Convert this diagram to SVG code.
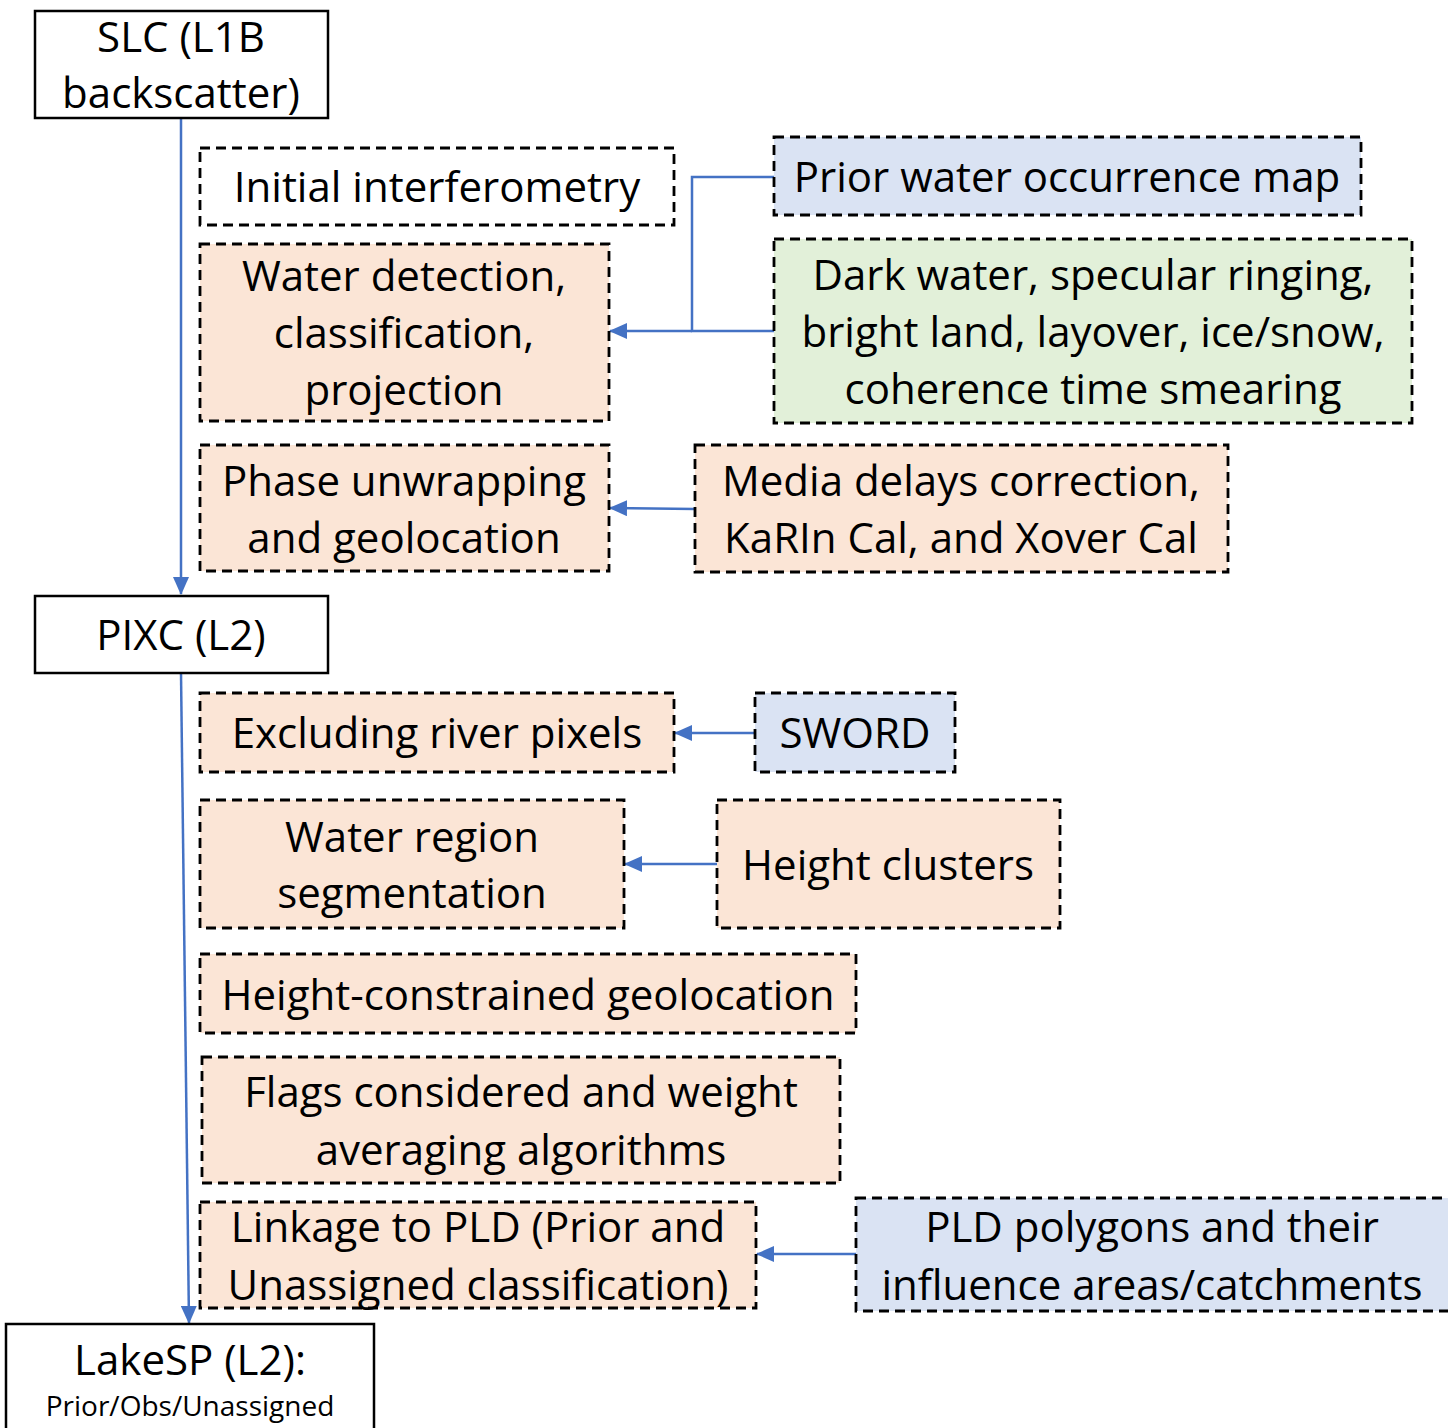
<svg xmlns="http://www.w3.org/2000/svg" width="1448" height="1428" viewBox="0 0 1448 1428">
<defs>
<marker id="ah" markerUnits="userSpaceOnUse" markerWidth="18" markerHeight="16" refX="17" refY="8" orient="auto">
<path d="M0,0 L18,8 L0,16 Z" fill="#4472C4"/>
</marker>
<style>
.solid{fill:#fff;stroke:#000;stroke-width:2.5}
.dash{stroke:#000;stroke-width:2.8;stroke-dasharray:10 6}
.w{fill:#fff}.p{fill:#FBE5D6}.b{fill:#DAE3F3}.g{fill:#E2F0D9}
text{font-family:"Open Sans","Liberation Sans",sans-serif;font-size:42px;fill:#000;text-anchor:middle}
.sm{font-size:28px}
.c{fill:none;stroke:#4472C4;stroke-width:2.5}
</style>
</defs>
<rect width="1448" height="1428" fill="#fff"/>
<g id="connectors">
<line class="c" x1="181" y1="118" x2="181" y2="594" marker-end="url(#ah)"/>
<line class="c" x1="181" y1="673" x2="189" y2="1323" marker-end="url(#ah)"/>
<polyline class="c" points="774,177 692,177 692,331 774,331"/>
<line class="c" x1="692" y1="331" x2="610" y2="331" marker-end="url(#ah)"/>
<line class="c" x1="695" y1="509" x2="610" y2="508" marker-end="url(#ah)"/>
<line class="c" x1="755" y1="733" x2="675" y2="733" marker-end="url(#ah)"/>
<line class="c" x1="717" y1="864" x2="625" y2="864" marker-end="url(#ah)"/>
<line class="c" x1="856" y1="1254" x2="757" y2="1254" marker-end="url(#ah)"/>
</g>
<g id="slc"><rect class="solid" x="35" y="11" width="293" height="107"/><text x="181" y="52">SLC (L1B</text><text x="181" y="108">backscatter)</text></g>
<g id="initial"><rect class="dash w" x="200" y="148" width="474" height="77"/><text x="437" y="202">Initial interferometry</text></g>
<g id="water-detection"><rect class="dash p" x="200" y="244" width="409" height="177"/><text x="404" y="291">Water detection,</text><text x="404" y="348">classification,</text><text x="404" y="405">projection</text></g>
<g id="phase"><rect class="dash p" x="200" y="445" width="409" height="126"/><text x="404" y="496">Phase unwrapping</text><text x="404" y="553">and geolocation</text></g>
<g id="prior-map"><rect class="dash b" x="774" y="137" width="587" height="78"/><text x="1067" y="192">Prior water occurrence map</text></g>
<g id="dark-water"><rect class="dash g" x="774" y="239" width="638" height="184"/><text x="1093" y="290">Dark water, specular ringing,</text><text x="1093" y="347">bright land, layover, ice/snow,</text><text x="1093" y="404">coherence time smearing</text></g>
<g id="media"><rect class="dash p" x="695" y="445" width="533" height="127"/><text x="961" y="496">Media delays correction,</text><text x="961" y="553">KaRIn Cal, and Xover Cal</text></g>
<g id="pixc"><rect class="solid" x="35" y="596" width="293" height="77"/><text x="181" y="650">PIXC (L2)</text></g>
<g id="excluding"><rect class="dash p" x="200" y="693" width="474" height="79"/><text x="437" y="748">Excluding river pixels</text></g>
<g id="sword"><rect class="dash b" x="755" y="693" width="200" height="79"/><text x="855" y="748">SWORD</text></g>
<g id="segmentation"><rect class="dash p" x="200" y="800" width="424" height="128"/><text x="412" y="852">Water region</text><text x="412" y="908">segmentation</text></g>
<g id="height-clusters"><rect class="dash p" x="717" y="800" width="343" height="128"/><text x="888" y="880">Height clusters</text></g>
<g id="height-geo"><rect class="dash p" x="200" y="954" width="656" height="79"/><text x="528" y="1010">Height-constrained geolocation</text></g>
<g id="flags"><rect class="dash p" x="202" y="1057" width="638" height="126"/><text x="521" y="1107">Flags considered and weight</text><text x="521" y="1165">averaging algorithms</text></g>
<g id="linkage"><rect class="dash p" x="200" y="1202" width="556" height="106"/><text x="478" y="1242">Linkage to PLD (Prior and</text><text x="478" y="1300">Unassigned classification)</text></g>
<g id="pld"><rect class="dash b" x="856" y="1198" width="600" height="113"/><text x="1152" y="1242">PLD polygons and their</text><text x="1152" y="1300">influence areas/catchments</text></g>
<g id="lakesp"><rect class="solid" x="6" y="1324" width="368" height="120"/><text x="190" y="1375">LakeSP (L2):</text><text class="sm" x="190" y="1416">Prior/Obs/Unassigned</text></g>
</svg>
